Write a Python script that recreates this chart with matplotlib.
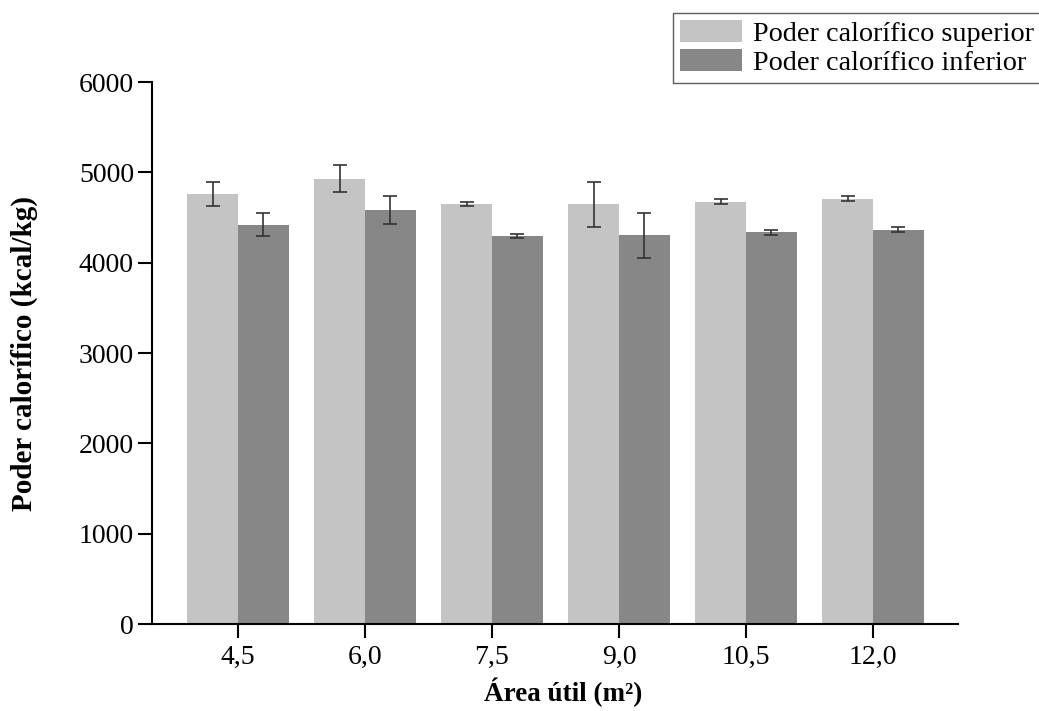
import numpy as np
import matplotlib
matplotlib.use("Agg")
import matplotlib.pyplot as plt

# Useful area (m²) and calorific values (kcal/kg)
areas = ["4,5", "6,0", "7,5", "9,0", "10,5", "12,0"]
pcs_mean = [4760, 4930, 4645, 4645, 4672, 4710]
pcs_err = [135, 150, 22, 250, 28, 30]
pci_mean = [4420, 4585, 4300, 4305, 4335, 4367]
pci_err = [130, 155, 22, 250, 28, 28]

plt.rcParams["font.family"] = ["Liberation Serif", "DejaVu Serif"]

fig = plt.figure(figsize=(10.39, 7.11), dpi=100)
ax = fig.add_axes([152 / 1039, 1 - 624 / 711, 806 / 1039, 542 / 711])

x = np.arange(len(areas))
w = 0.4
err_kw = dict(ecolor="#333333", elinewidth=1.2, capsize=5, capthick=1.2)
ax.bar(x - w / 2, pcs_mean, w, yerr=pcs_err, color="#c4c4c4",
       label="Poder calorífico superior", error_kw=err_kw)
ax.bar(x + w / 2, pci_mean, w, yerr=pci_err, color="#878787",
       label="Poder calorífico inferior", error_kw=err_kw)

ax.set_xlim(-0.677, 5.67)
ax.set_ylim(0, 6000)
ax.set_xticks(x)
ax.set_xticklabels(areas)
ax.set_yticks(np.arange(0, 6001, 1000))

for s in ["top", "right"]:
    ax.spines[s].set_visible(False)
for s in ["left", "bottom"]:
    ax.spines[s].set_linewidth(1.5)
ax.tick_params(axis="both", direction="out", length=10, width=1.5,
               labelsize=20)
ax.tick_params(axis="y", pad=3)
ax.tick_params(axis="x", pad=5)

ax.set_xlabel("Área útil (m²)", fontsize=19.5, fontweight="bold")
ax.xaxis.set_label_coords(0.51, -0.1255)
ax.xaxis.label.set_va("center")
ax.set_ylabel("Poder calorífico (kcal/kg)", fontsize=21, fontweight="bold")
ax.yaxis.set_label_coords(-0.158, 0.5)
ax.yaxis.label.set_va("center")

leg = fig.legend(loc="upper left", bbox_to_anchor=(673 / 1039, 1 - 13 / 711),
                 fontsize=20.3, frameon=True, fancybox=False, handlelength=2.2,
                 handleheight=0.8, borderpad=0.25, labelspacing=0.1,
                 handletextpad=0.4, borderaxespad=0)
leg.get_frame().set_edgecolor("#333333")
leg.get_frame().set_linewidth(1.0)

fig.savefig("out.png", dpi=100)
